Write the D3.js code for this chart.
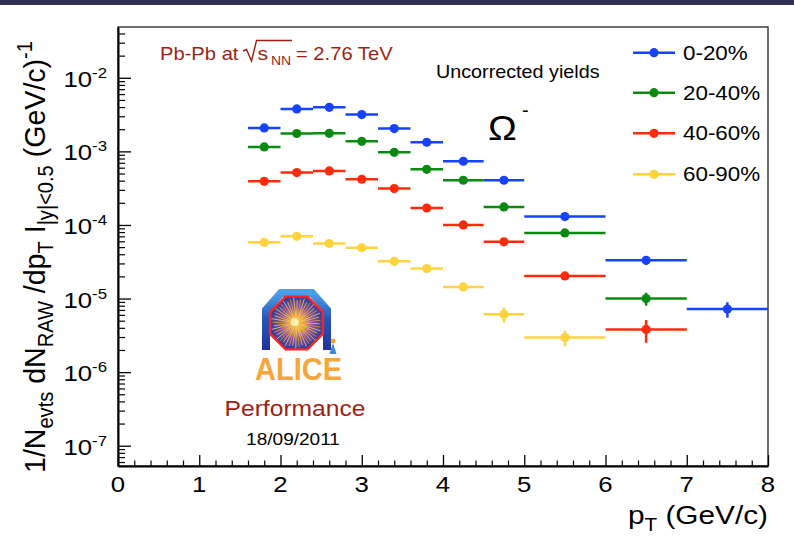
<!DOCTYPE html>
<html><head><meta charset="utf-8">
<script src="https://cdn.jsdelivr.net/npm/d3@7"></script>
<style>
body{margin:0;background:#fff}
svg{display:block}
text{font-family:"Liberation Sans",Arial,Helvetica,sans-serif}
</style>
</head><body>
<svg id="chart" width="794" height="546"></svg>
<script>
// pT bins (GeV/c): low edge, high edge, centre
const binLow    = [1.6, 2.0, 2.4, 2.8, 3.2, 3.6, 4.0, 4.5, 5.0, 6.0, 7.0];
const binHigh   = [2.0, 2.4, 2.8, 3.2, 3.6, 4.0, 4.5, 5.0, 6.0, 7.0, 8.0];
const binCentre = [1.8, 2.2, 2.6, 3.0, 3.4, 3.8, 4.25, 4.75, 5.5, 6.5, 7.5];

// centrality classes and their colours
const centralities = ["0-20%", "20-40%", "40-60%", "60-90%"];
const colours      = ["#1742ff", "#0b8a12", "#ff2a0c", "#ffd23e"];

// uncorrected Omega- yields per centrality class
const yield0_20  = [2.08e-3, 3.77e-3, 3.97e-3, 3.16e-3, 2.04e-3, 1.33e-3, 7.34e-4, 4.05e-4, 1.30e-4, 3.31e-5, 7.2e-6];
const yield20_40 = [1.15e-3, 1.75e-3, 1.76e-3, 1.37e-3, 9.7e-4, 5.7e-4, 4.05e-4, 1.76e-4, 7.8e-5, 1.0e-5];
const yield40_60 = [3.92e-4, 5.15e-4, 5.42e-4, 4.18e-4, 3.12e-4, 1.70e-4, 1.0e-4, 5.9e-5, 2.03e-5, 3.8e-6];
const yield60_90 = [5.8e-5, 7.0e-5, 5.6e-5, 4.9e-5, 3.2e-5, 2.56e-5, 1.44e-5, 6.1e-6, 2.95e-6];

// statistical errors on the yields
const err0_20  = [3e-5, 5e-5, 5e-5, 4e-5, 3e-5, 2e-5, 1.2e-5, 8e-6, 4e-6, 4.4e-6, 1.7e-6];
const err20_40 = [2e-5, 3e-5, 3e-5, 2.5e-5, 2e-5, 1.2e-5, 1e-5, 6e-6, 4e-6, 2.0e-6];
const err40_60 = [1e-5, 1.2e-5, 1.2e-5, 1e-5, 8e-6, 6e-6, 4e-6, 3e-6, 1.6e-6, 1.3e-6];
const err60_90 = [3e-6, 3.5e-6, 3e-6, 2.5e-6, 2e-6, 1.6e-6, 1.2e-6, 1.4e-6, 0.7e-6];

const allYields = [yield0_20, yield20_40, yield40_60, yield60_90];
const allErrors = [err0_20, err20_40, err40_60, err60_90];

// axis ranges and tick values
const xRange = [0, 8];
const yRange = [5.3e-8, 4.9e-2];
const xMajorTicks = [0, 1, 2, 3, 4, 5, 6, 7, 8];
const yDecadeExponents = [-7, -6, -5, -4, -3, -2];

const SX = 1.12; // horizontal stretch of all lettering

const svg = d3.select("#chart");
const L = 118, R = 768, T = 27, B = 466;

const x = d3.scaleLinear().domain(xRange).range([L, R]);
const y = d3.scaleLog().domain(yRange).range([B, T]);

// top banner
svg.append("rect").attr("x", 0).attr("y", 0).attr("width", 794).attr("height", 5).attr("fill", "#2f3252");

function label(parent, px, py, anchor, size, str, fill) {
  return parent.append("text")
    .attr("transform", `translate(${px},${py}) scale(${SX},1)`)
    .attr("text-anchor", anchor)
    .attr("font-size", size)
    .attr("fill", fill || "#000")
    .text(str || null);
}

// frame
svg.append("rect").attr("x", L).attr("y", T).attr("width", R - L).attr("height", B - T)
  .attr("fill", "none").attr("stroke", "#333").attr("stroke-width", 1.4);

// x axis: minor then major ticks pointing inside
const xMinor = d3.range(1, 40).map(i => i * 0.2).filter(v => Math.abs(v - Math.round(v)) > 1e-6);
svg.append("g").attr("transform", `translate(0,${B})`)
  .call(d3.axisBottom(x).tickValues(xMinor).tickFormat("").tickSizeInner(-5.5).tickSizeOuter(0))
  .call(g => g.select(".domain").remove())
  .call(g => g.selectAll("line").attr("stroke-width", 1.2));
svg.append("g").attr("transform", `translate(0,${B})`)
  .call(d3.axisBottom(x).tickValues(xMajorTicks).tickFormat("").tickSizeInner(-11).tickSizeOuter(0))
  .call(g => g.select(".domain").attr("stroke-width", 2))
  .call(g => g.selectAll("line").attr("stroke-width", 1.3));
xMajorTicks.forEach(v => label(svg, x(v), 492, "middle", 23, String(v)));

// y axis: log ticks
const yMinor = [];
for (let e = -8; e <= -2; e++) for (let m = 2; m <= 9; m++) {
  const v = m * Math.pow(10, e);
  if (v > yRange[0] && v < yRange[1]) yMinor.push(v);
}
svg.append("g").attr("transform", `translate(${L},0)`)
  .call(d3.axisLeft(y).tickValues(yMinor).tickFormat("").tickSizeInner(-7).tickSizeOuter(0))
  .call(g => g.select(".domain").remove())
  .call(g => g.selectAll("line").attr("stroke-width", 1.2));
svg.append("g").attr("transform", `translate(${L},0)`)
  .call(d3.axisLeft(y).tickValues(yDecadeExponents.map(e => Math.pow(10, e))).tickFormat("").tickSizeInner(-13).tickSizeOuter(0))
  .call(g => g.select(".domain").attr("stroke-width", 2))
  .call(g => g.selectAll("line").attr("stroke-width", 1.3));
yDecadeExponents.forEach(e => {
  const t = label(svg, 107, y(Math.pow(10, e)) + 9, "end", 23);
  t.append("tspan").text("10");
  t.append("tspan").attr("font-size", 15).attr("dy", -9).text(String(e));
});

// axis titles
const xt = label(svg, 768, 524, "end", 26);
xt.append("tspan").text("p");
xt.append("tspan").attr("font-size", 18).attr("dy", 7).text("T");
xt.append("tspan").attr("dy", -7).text(" (GeV/c)");
xt.attr("textLength", 125).attr("lengthAdjust", "spacingAndGlyphs");

const yt = svg.append("text")
  .attr("transform", `translate(45,257) scale(${SX},1) rotate(-90)`)
  .attr("text-anchor", "middle").attr("font-size", 27);
yt.append("tspan").text("1/N");
yt.append("tspan").attr("font-size", 19).attr("dy", 7).text("evts");
yt.append("tspan").attr("dy", -7).text(" dN");
yt.append("tspan").attr("font-size", 19).attr("dy", 7).text("RAW");
yt.append("tspan").attr("dy", -7).text(" /dp");
yt.append("tspan").attr("font-size", 19).attr("dy", 7).text("T");
yt.append("tspan").attr("dy", -7).text(" I");
yt.append("tspan").attr("font-size", 19).attr("dy", 7).text("|y|<0.5");
yt.append("tspan").attr("dy", -7).text("  (GeV/c)");
yt.append("tspan").attr("font-size", 19).attr("dy", -12).text("-1");
yt.attr("textLength", 432).attr("lengthAdjust", "spacingAndGlyphs");

// data: horizontal bin-width bars, vertical error bars, markers
const plot = svg.append("g");
allYields.forEach((vals, s) => {
  const col = colours[s];
  const g = plot.append("g");
  const pts = vals.map((v, i) => ({v, e: allErrors[s][i], lo: binLow[i], hi: binHigh[i], c: binCentre[i]}));
  g.selectAll("line.h").data(pts).join("line")
    .attr("x1", d => x(d.lo)).attr("x2", d => x(d.hi))
    .attr("y1", d => y(d.v)).attr("y2", d => y(d.v))
    .attr("stroke", col).attr("stroke-width", 2.5);
  g.selectAll("line.v").data(pts).join("line")
    .attr("x1", d => x(d.c)).attr("x2", d => x(d.c))
    .attr("y1", d => y(d.v + d.e)).attr("y2", d => y(Math.max(d.v - d.e, yRange[0])))
    .attr("stroke", col).attr("stroke-width", 2.5);
  g.selectAll("circle").data(pts).join("circle")
    .attr("cx", d => x(d.c)).attr("cy", d => y(d.v)).attr("r", 4.6).attr("fill", col);
});

// legend
const legendRowY = [52.7, 92.7, 133.3, 174.3];
centralities.forEach((c, i) => {
  const ly = legendRowY[i];
  svg.append("line").attr("x1", 633).attr("x2", 675).attr("y1", ly).attr("y2", ly)
    .attr("stroke", colours[i]).attr("stroke-width", 2.5);
  svg.append("circle").attr("cx", 654).attr("cy", ly).attr("r", 4.6).attr("fill", colours[i]);
  label(svg, 683, ly + 7, "start", 20, c);
});

// collision system
const darkRed = "#9c1f14";
label(svg, 160, 60, "start", 18, "Pb-Pb at", darkRed);
svg.append("path").attr("d", "M243,51 L246.5,49.5 L251.5,61 L256.5,40.5 L292,40.5")
  .attr("fill", "none").attr("stroke", darkRed).attr("stroke-width", 1.4);
label(svg, 257.5, 60, "start", 19, "s", darkRed);
label(svg, 271, 65, "start", 12.5, "NN", darkRed);
label(svg, 296, 60, "start", 18, "= 2.76 TeV", darkRed);

label(svg, 436, 78, "start", 18, "Uncorrected yields").attr("textLength", 146).attr("lengthAdjust", "spacingAndGlyphs");

// particle symbol
svg.append("text").attr("x", 488).attr("y", 140).attr("font-size", 35)
  .attr("font-family", "'Liberation Serif','Times New Roman',serif")
  .attr("transform", `translate(488,0) scale(1.1,1) translate(-488,0)`).text("\u03A9");
svg.append("text").attr("x", 522).attr("y", 117).attr("font-size", 20)
  .attr("font-family", "'Liberation Serif','Times New Roman',serif").text("-");

// ALICE logo
const defs = svg.append("defs");
const rg = defs.append("radialGradient").attr("id", "core");
rg.append("stop").attr("offset", "0%").attr("stop-color", "#fff2a0");
rg.append("stop").attr("offset", "22%").attr("stop-color", "#f6a44a");
rg.append("stop").attr("offset", "60%").attr("stop-color", "#8a4c9e");
rg.append("stop").attr("offset", "100%").attr("stop-color", "#2c40a0");
const ag = defs.append("linearGradient").attr("id", "arch").attr("x1", 0).attr("y1", 0).attr("x2", 0).attr("y2", 1);
ag.append("stop").attr("offset", "0%").attr("stop-color", "#4aa0e8");
ag.append("stop").attr("offset", "45%").attr("stop-color", "#2a55b8");
ag.append("stop").attr("offset", "100%").attr("stop-color", "#1f3399");

const logo = svg.append("g");
logo.append("path").attr("d", "M266,350 L266,310 L281,293 L312,293 L327,310 L327,350")
  .attr("fill", "none").attr("stroke", "url(#arch)").attr("stroke-width", 8).attr("stroke-linejoin", "miter");
const cx = 296.5, cy = 323, Ro = 28.5;
const oct = d3.range(8).map(k => {
  const a = (22.5 + 45 * k) * Math.PI / 180;
  return [cx + Ro * Math.cos(a), cy + Ro * Math.sin(a)];
});
logo.append("polygon").attr("points", oct.map(p => p.join(",")).join(" "))
  .attr("fill", "url(#core)").attr("stroke", "#ff2222").attr("stroke-width", 2.4);
const rayCols = ["#f8d040", "#f59a38", "#e8e070"];
d3.range(44).forEach(k => {
  const a = k * 2 * Math.PI / 44 + 0.03;
  const r1 = 3, r2 = 23 + (k % 3) * 1.2;
  logo.append("line")
    .attr("x1", cx + r1 * Math.cos(a)).attr("y1", cy + r1 * Math.sin(a))
    .attr("x2", cx + r2 * Math.cos(a)).attr("y2", cy + r2 * Math.sin(a))
    .attr("stroke", rayCols[k % 3]).attr("stroke-width", 0.9).attr("opacity", 0.85);
});
logo.append("circle").attr("cx", cx - 2).attr("cy", cy - 1).attr("r", 4).attr("fill", "#fff6c0").attr("opacity", 0.8);
// small figure beside the detector
logo.append("circle").attr("cx", 333).attr("cy", 341).attr("r", 2.4).attr("fill", "#f4a030");
logo.append("path").attr("d", "M333,343 L336.5,354 L329.5,354 Z").attr("fill", "#3f86cf");
logo.append("text").attr("x", 255).attr("y", 380).attr("font-size", 31).attr("font-weight", "bold")
  .attr("fill", "#f8a63c").attr("textLength", 87).attr("lengthAdjust", "spacingAndGlyphs").text("ALICE");

label(svg, 295, 416, "middle", 22, "Performance", darkRed);
label(svg, 293, 445, "middle", 17, "18/09/2011");
</script>
</body></html>
